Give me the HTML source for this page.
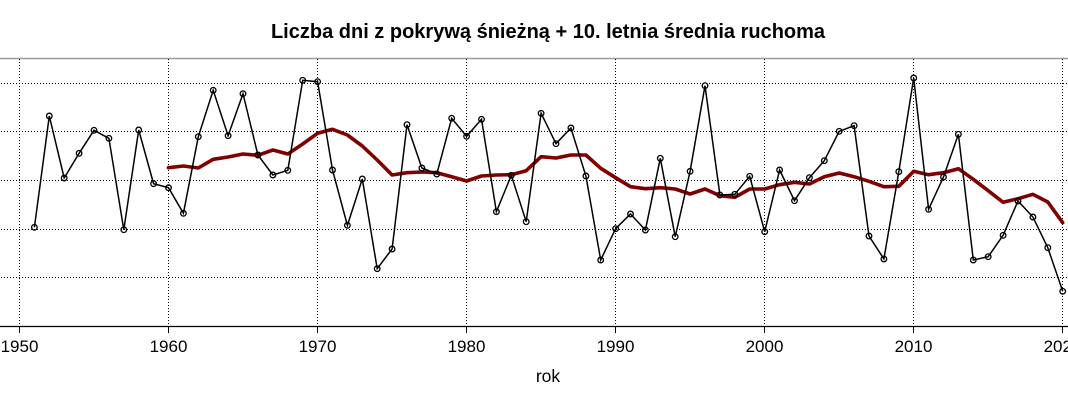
<!DOCTYPE html>
<html><head><meta charset="utf-8"><style>
html,body{margin:0;padding:0;background:#fff;}
svg{display:block;}
text{font-family:"Liberation Sans",sans-serif;fill:#000;}
</style></head><body>
<svg width="1068" height="400" viewBox="0 0 1068 400" xmlns="http://www.w3.org/2000/svg">
<rect width="1068" height="400" fill="#fff"/>
<text x="548" y="38" font-size="20" font-weight="bold" text-anchor="middle">Liczba dni z pokrywą śnieżną + 10. letnia średnia ruchoma</text>
<line x1="0" y1="58.5" x2="1068" y2="58.5" stroke="#9a9a9a" stroke-width="1.5"/>
<g stroke="#000" stroke-width="1" stroke-dasharray="1,2" fill="none">
<line x1="1" y1="83.5" x2="1068" y2="83.5"/>
<line x1="1" y1="131.5" x2="1068" y2="131.5"/>
<line x1="1" y1="180.5" x2="1068" y2="180.5"/>
<line x1="1" y1="229.5" x2="1068" y2="229.5"/>
<line x1="1" y1="277.5" x2="1068" y2="277.5"/>
<line x1="19.5" y1="59" x2="19.5" y2="326"/>
<line x1="168.5" y1="59" x2="168.5" y2="326"/>
<line x1="317.5" y1="59" x2="317.5" y2="326"/>
<line x1="466.5" y1="59" x2="466.5" y2="326"/>
<line x1="615.5" y1="59" x2="615.5" y2="326"/>
<line x1="764.5" y1="59" x2="764.5" y2="326"/>
<line x1="913.5" y1="59" x2="913.5" y2="326"/>
<line x1="1062.5" y1="59" x2="1062.5" y2="326"/>
</g>
<line x1="0" y1="326.5" x2="1068" y2="326.5" stroke="#000" stroke-width="1.3"/>
<g stroke="#000" stroke-width="1">
<line x1="19.5" y1="326" x2="19.5" y2="333"/>
<line x1="168.5" y1="326" x2="168.5" y2="333"/>
<line x1="317.5" y1="326" x2="317.5" y2="333"/>
<line x1="466.5" y1="326" x2="466.5" y2="333"/>
<line x1="615.5" y1="326" x2="615.5" y2="333"/>
<line x1="764.5" y1="326" x2="764.5" y2="333"/>
<line x1="913.5" y1="326" x2="913.5" y2="333"/>
<line x1="1062.5" y1="326" x2="1062.5" y2="333"/>
</g>
<g font-size="17" text-anchor="middle">
<text x="19.5" y="352">1950</text>
<text x="168.5" y="352">1960</text>
<text x="317.5" y="352">1970</text>
<text x="466.5" y="352">1980</text>
<text x="615.5" y="352">1990</text>
<text x="764.5" y="352">2000</text>
<text x="913.5" y="352">2010</text>
<text x="1062.5" y="352">2020</text>
</g>
<text x="548" y="382" font-size="17.5" text-anchor="middle">rok</text>

<polyline fill="none" stroke="#800000" stroke-width="3.6" stroke-linejoin="round" stroke-linecap="round" points="168.5,167.7 183.4,166 198.3,168 213.2,159.3 228.1,157 243.0,154 257.9,155.3 272.9,150 287.8,154 302.7,144 317.6,133.3 332.5,129.3 347.4,135 362.3,146 377.2,160 392.1,175 407.0,172.7 421.9,172 436.8,172.7 451.7,176.7 466.6,181 481.5,176 496.4,175 511.3,174.7 526.2,170.7 541.1,156.7 556.0,158 570.9,155 585.9,155 600.7,168.3 615.6,177.7 630.5,186.7 645.4,188.7 660.3,187.7 675.2,189 690.1,194 705.0,189 719.9,195.7 734.8,197.3 749.7,189 764.7,189 779.6,184.7 794.5,182.3 809.4,184 824.3,176.7 839.2,173 854.1,176.7 869.0,181.3 883.9,186.7 898.8,186.3 913.7,171.3 928.6,174.7 943.5,172.7 958.4,168.7 973.3,179.3 988.2,190.7 1003.1,202.3 1018.0,198.7 1032.9,194.3 1047.8,202 1062.7,222.7"/>

<polyline fill="none" stroke="#000" stroke-width="1.5" stroke-linejoin="miter" points="34.4,227.3 49.3,116 64.2,178 79.1,153.3 94.0,130.3 108.9,138.3 123.8,229.7 138.7,130 153.6,183.7 168.5,187.7 183.4,213.3 198.3,136.7 213.2,90.3 228.1,135.7 243.0,93.7 257.9,155 272.9,175 287.8,170.3 302.7,80.3 317.6,81.7 332.5,170 347.4,225.3 362.3,179 377.2,268.7 392.1,249 407.0,124.7 421.9,168 436.8,174 451.7,118.3 466.6,136.3 481.5,119.3 496.4,211.7 511.3,175.3 526.2,221.7 541.1,113.3 556.0,143.7 570.9,128 585.9,176 600.7,260 615.6,228.7 630.5,214 645.4,230 660.3,158.3 675.2,236.7 690.1,171.3 705.0,85.7 719.9,195 734.8,194.3 749.7,176.3 764.7,231.7 779.6,170 794.5,200.7 809.4,177.7 824.3,160.7 839.2,131.3 854.1,125.7 869.0,236 883.9,259 898.8,171.7 913.7,78 928.6,209.3 943.5,177 958.4,134.3 973.3,260 988.2,256.7 1003.1,235.3 1018.0,201 1032.9,217 1047.8,247.7 1062.7,291.3"/>

<g fill="none" stroke="#000" stroke-width="1.3">
<circle cx="34.4" cy="227.3" r="2.8"/><circle cx="49.3" cy="116" r="2.8"/><circle cx="64.2" cy="178" r="2.8"/><circle cx="79.1" cy="153.3" r="2.8"/><circle cx="94.0" cy="130.3" r="2.8"/><circle cx="108.9" cy="138.3" r="2.8"/><circle cx="123.8" cy="229.7" r="2.8"/><circle cx="138.7" cy="130" r="2.8"/><circle cx="153.6" cy="183.7" r="2.8"/><circle cx="168.5" cy="187.7" r="2.8"/>
<circle cx="183.4" cy="213.3" r="2.8"/><circle cx="198.3" cy="136.7" r="2.8"/><circle cx="213.2" cy="90.3" r="2.8"/><circle cx="228.1" cy="135.7" r="2.8"/><circle cx="243.0" cy="93.7" r="2.8"/><circle cx="257.9" cy="155" r="2.8"/><circle cx="272.9" cy="175" r="2.8"/><circle cx="287.8" cy="170.3" r="2.8"/><circle cx="302.7" cy="80.3" r="2.8"/><circle cx="317.6" cy="81.7" r="2.8"/>
<circle cx="332.5" cy="170" r="2.8"/><circle cx="347.4" cy="225.3" r="2.8"/><circle cx="362.3" cy="179" r="2.8"/><circle cx="377.2" cy="268.7" r="2.8"/><circle cx="392.1" cy="249" r="2.8"/><circle cx="407.0" cy="124.7" r="2.8"/><circle cx="421.9" cy="168" r="2.8"/><circle cx="436.8" cy="174" r="2.8"/><circle cx="451.7" cy="118.3" r="2.8"/><circle cx="466.6" cy="136.3" r="2.8"/>
<circle cx="481.5" cy="119.3" r="2.8"/><circle cx="496.4" cy="211.7" r="2.8"/><circle cx="511.3" cy="175.3" r="2.8"/><circle cx="526.2" cy="221.7" r="2.8"/><circle cx="541.1" cy="113.3" r="2.8"/><circle cx="556.0" cy="143.7" r="2.8"/><circle cx="570.9" cy="128" r="2.8"/><circle cx="585.9" cy="176" r="2.8"/><circle cx="600.7" cy="260" r="2.8"/><circle cx="615.6" cy="228.7" r="2.8"/>
<circle cx="630.5" cy="214" r="2.8"/><circle cx="645.4" cy="230" r="2.8"/><circle cx="660.3" cy="158.3" r="2.8"/><circle cx="675.2" cy="236.7" r="2.8"/><circle cx="690.1" cy="171.3" r="2.8"/><circle cx="705.0" cy="85.7" r="2.8"/><circle cx="719.9" cy="195" r="2.8"/><circle cx="734.8" cy="194.3" r="2.8"/><circle cx="749.7" cy="176.3" r="2.8"/><circle cx="764.7" cy="231.7" r="2.8"/>
<circle cx="779.6" cy="170" r="2.8"/><circle cx="794.5" cy="200.7" r="2.8"/><circle cx="809.4" cy="177.7" r="2.8"/><circle cx="824.3" cy="160.7" r="2.8"/><circle cx="839.2" cy="131.3" r="2.8"/><circle cx="854.1" cy="125.7" r="2.8"/><circle cx="869.0" cy="236" r="2.8"/><circle cx="883.9" cy="259" r="2.8"/><circle cx="898.8" cy="171.7" r="2.8"/><circle cx="913.7" cy="78" r="2.8"/>
<circle cx="928.6" cy="209.3" r="2.8"/><circle cx="943.5" cy="177" r="2.8"/><circle cx="958.4" cy="134.3" r="2.8"/><circle cx="973.3" cy="260" r="2.8"/><circle cx="988.2" cy="256.7" r="2.8"/><circle cx="1003.1" cy="235.3" r="2.8"/><circle cx="1018.0" cy="201" r="2.8"/><circle cx="1032.9" cy="217" r="2.8"/><circle cx="1047.8" cy="247.7" r="2.8"/><circle cx="1062.7" cy="291.3" r="2.8"/>
</g>
</svg>
</body></html>
